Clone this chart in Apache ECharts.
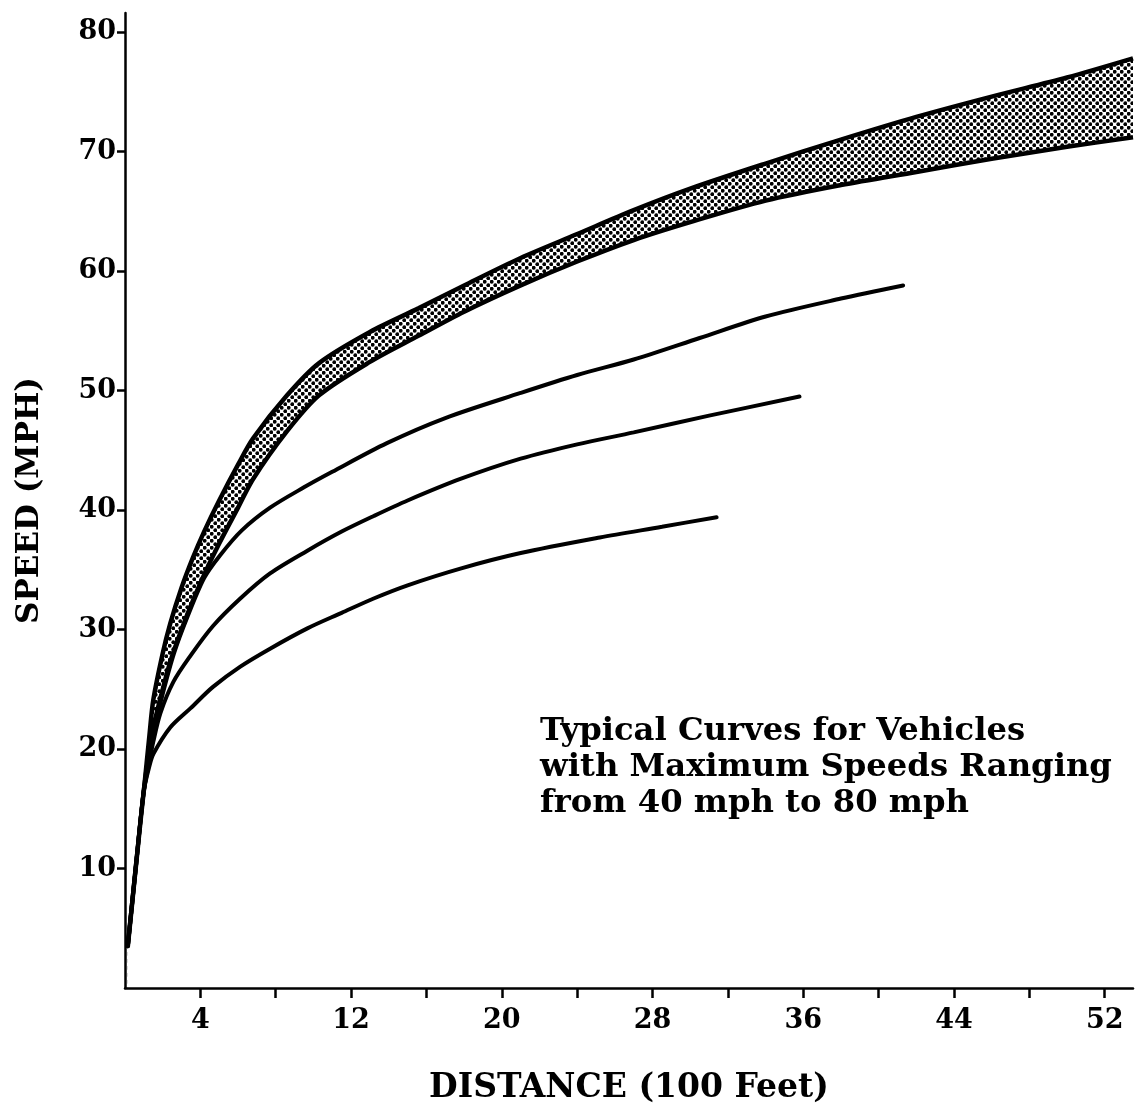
<!DOCTYPE html>
<html>
<head>
<meta charset="utf-8">
<title>Speed vs Distance</title>
<script src="https://cdn.jsdelivr.net/npm/echarts@6/dist/echarts.min.js"></script>
<style>
  html, body { margin: 0; padding: 0; background: #fff; }
  #chart { width: 1138px; height: 1118px; }
</style>
</head>
<body>
<div id="chart"></div>
<script>
// distance in 100 ft, speed in mph
const bandDist = [0.15, 0.6, 1.0, 1.3, 1.5, 2.0, 2.4, 3.0, 3.6, 4.2, 5.0, 6.0, 6.8, 8.6, 10.3, 13.0, 15.6, 18.0, 21.0, 24.0, 27.0, 30.0, 34.0, 38.0, 42.0, 46.0, 50.0, 53.5];
const band80Speed = [3.5, 10.5, 16.5, 21.2, 24.1, 28.0, 30.5, 33.5, 36.0, 38.2, 40.8, 43.8, 46.0, 49.6, 52.3, 54.9, 56.9, 58.8, 61.1, 63.1, 65.1, 66.9, 69.0, 71.0, 72.9, 74.6, 76.2, 77.8];
const band70Speed = [3.5, 10.5, 16.5, 20.0, 21.8, 25.0, 27.3, 30.0, 32.4, 34.6, 37.2, 40.2, 42.6, 46.6, 49.6, 52.4, 54.6, 56.6, 58.8, 60.8, 62.6, 64.1, 65.9, 67.2, 68.3, 69.4, 70.4, 71.2];

const dist60 = [0.15, 0.6, 1.0, 1.3, 1.5, 2.0, 2.6, 3.3, 4.2, 5.04, 6.2, 7.7, 9.5, 11.0, 13.9, 17.0, 21.0, 24.0, 27.0, 30.5, 34.0, 38.0, 41.3];
const speed60 = [3.5, 10.5, 16.5, 19.5, 21.3, 24.6, 28.0, 31.0, 34.3, 36.2, 38.3, 40.2, 41.9, 43.2, 45.6, 47.7, 49.8, 51.3, 52.6, 54.4, 56.2, 57.7, 58.8];

const dist50 = [0.15, 0.6, 1.0, 1.3, 1.5, 1.88, 2.56, 3.47, 4.67, 6.12, 7.7, 9.68, 11.5, 13.2, 15.0, 17.8, 21.0, 24.0, 27.0, 31.0, 35.8];
const speed50 = [3.5, 10.5, 16.5, 19.0, 20.6, 23.0, 25.6, 27.8, 30.3, 32.6, 34.7, 36.6, 38.2, 39.5, 40.8, 42.6, 44.3, 45.5, 46.5, 47.9, 49.5];

const dist40 = [0.15, 0.6, 1.0, 1.3, 1.51, 2.4, 3.47, 4.67, 6.12, 7.7, 9.68, 11.5, 13.2, 15.0, 17.8, 21.0, 25.2, 28.5, 31.4];
const speed40 = [3.5, 10.5, 16.5, 18.6, 19.6, 21.8, 23.4, 25.2, 26.9, 28.4, 30.1, 31.4, 32.6, 33.7, 35.1, 36.4, 37.7, 38.6, 39.4];

const xLabelValues = [4, 12, 20, 28, 36, 44, 52];
const xTickValues = [4, 8, 12, 16, 20, 24, 28, 32, 36, 40, 44, 48, 52];
const yTickValues = [10, 20, 30, 40, 50, 60, 70, 80];

const zip = (xs, ys) => xs.map((x, i) => [x, ys[i]]);

// halftone dot fill for the shaded band
const dots = document.createElement('canvas');
dots.width = 7;
dots.height = 7;
const dctx = dots.getContext('2d');
dctx.fillStyle = '#fff';
dctx.fillRect(0, 0, 7, 7);
dctx.fillStyle = '#000';
[[1.75, 1.75], [5.25, 5.25]].forEach(([cx, cy]) => {
  dctx.beginPath();
  dctx.arc(cx, cy, 1.9, 0, Math.PI * 2);
  dctx.fill();
});

const font = '"DejaVu Serif", "Liberation Serif", serif';
const ink = '#000';

const curve = (data) => ({
  type: 'line',
  data: data,
  smooth: 0.3,
  showSymbol: false,
  z: 3,
  lineStyle: { color: ink, width: 4, cap: 'round' },
});

const chart = echarts.init(document.getElementById('chart'));
chart.setOption({
  backgroundColor: '#fff',
  animation: false,
  grid: { left: 125, right: 5, top: 13, bottom: 130 },
  xAxis: {
    type: 'value',
    min: 0,
    max: 53.5,
    z: 10,
    name: 'DISTANCE (100 Feet)',
    nameLocation: 'middle',
    nameGap: 84,
    nameTextStyle: { fontFamily: font, fontWeight: 'bold', fontSize: 33, color: ink },
    axisLine: { lineStyle: { color: ink, width: 2.5 } },
    axisTick: { customValues: xTickValues, length: 10, lineStyle: { color: ink, width: 2.5 } },
    axisLabel: {
      customValues: xLabelValues,
      margin: 19,
      fontFamily: font,
      fontWeight: 'bold',
      fontSize: 27,
      color: ink,
    },
    splitLine: { show: false },
  },
  yAxis: {
    type: 'value',
    min: 0,
    max: 81.6,
    z: 10,
    name: 'SPEED (MPH)',
    nameLocation: 'middle',
    nameRotate: 90,
    nameGap: 80,
    nameTextStyle: { fontFamily: font, fontWeight: 'bold', fontSize: 31, color: ink },
    axisLine: { lineStyle: { color: ink, width: 2.5 } },
    axisTick: { customValues: yTickValues, length: 8, lineStyle: { color: ink, width: 2.5 } },
    axisLabel: {
      customValues: yTickValues,
      margin: 9,
      fontFamily: font,
      fontWeight: 'bold',
      fontSize: 27,
      color: ink,
    },
    splitLine: { show: false },
  },
  graphic: [{
    type: 'text',
    left: 540,
    top: 714,
    z: 100,
    scaleX: 1.04,
    style: {
      text: 'Typical Curves for Vehicles\nwith Maximum Speeds Ranging\nfrom 40 mph to 80 mph',
      fontFamily: font,
      fontWeight: 'bold',
      fontSize: 31,
      lineHeight: 36,
      fill: ink,
    },
  }],
  series: [
    {
      // upper edge of the shaded 70-80 mph band
      type: 'line',
      data: zip(bandDist, band80Speed),
      smooth: 0.3,
      showSymbol: false,
      z: 1,
      lineStyle: { color: ink, width: 4.5 },
      areaStyle: { color: { image: dots, repeat: 'repeat' }, opacity: 1 },
    },
    {
      // lower edge, white fill masks the dots below it
      type: 'line',
      data: zip(bandDist, band70Speed),
      smooth: 0.3,
      showSymbol: false,
      z: 2,
      lineStyle: { color: ink, width: 4.5 },
      areaStyle: { color: '#fff', opacity: 1 },
    },
    curve(zip(dist60, speed60)),
    curve(zip(dist50, speed50)),
    curve(zip(dist40, speed40)),
  ],
});
</script>
</body>
</html>
